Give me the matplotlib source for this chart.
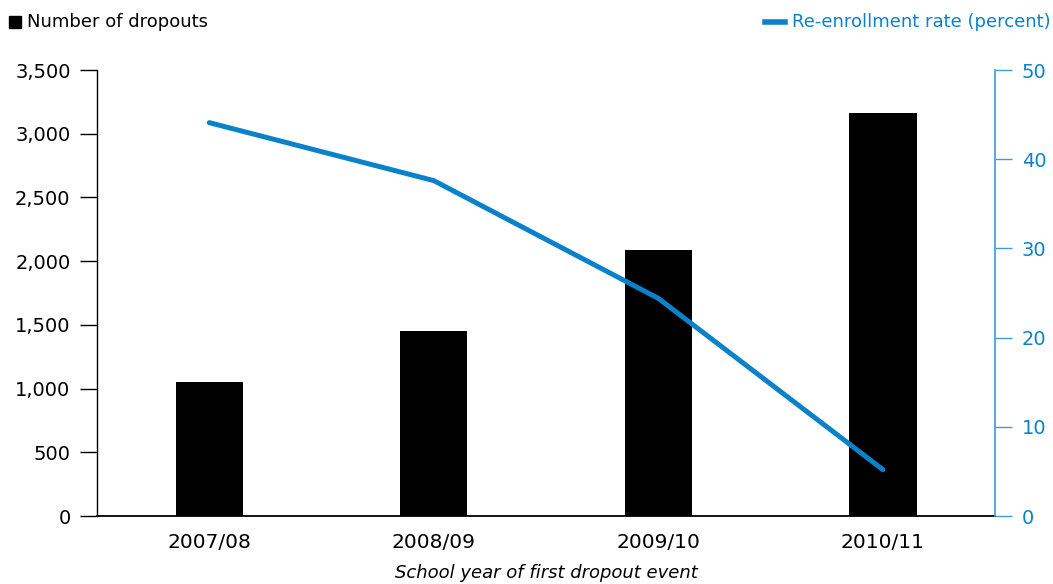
import matplotlib.pyplot as plt
from matplotlib.lines import Line2D

plt.rcParams["font.family"] = ["DejaVu Sans"]

years = ["2007/08", "2008/09", "2009/10", "2010/11"]
dropouts = [1050, 1450, 2090, 3165]
reenroll_rate = [44.1, 37.6, 24.4, 5.2]

left_ticks = [0, 500, 1000, 1500, 2000, 2500, 3000, 3500]
right_ticks = [0, 10, 20, 30, 40, 50]

BLUE = "#0A82CA"
AXIS_BLUE = "#3D9BD8"

fig = plt.figure(figsize=(10.53, 5.84), dpi=100)
ax = fig.add_axes([0.0921, 0.1164, 0.853, 0.7637])
ax2 = ax.twinx()

x = range(len(years))
ax.bar(x, dropouts, width=0.30, color="black", zorder=2)
ax.set_xlim(-0.5, 3.5)
ax.set_ylim(0, 3500)
ax.set_yticks(left_ticks)
ax.set_yticklabels([f"{v:,}" for v in left_ticks])
ax.set_xticks(list(x))
ax.set_xticklabels(years)
ax.tick_params(axis="y", length=12, width=1, labelsize=14, pad=7, colors="black")
ax.tick_params(axis="x", length=0, labelsize=14.5, pad=12)
for s in ["top", "right"]:
    ax.spines[s].set_visible(False)
ax.spines["left"].set_linewidth(1)
ax.spines["bottom"].set_linewidth(1.3)
ax.set_xlabel("School year of first dropout event", fontsize=13, style="italic", labelpad=9)

ax2.plot(x, reenroll_rate, color=BLUE, linewidth=3.6, solid_capstyle="round", zorder=3)
ax2.set_ylim(0, 50)
ax2.set_yticks(right_ticks)
ax2.tick_params(axis="y", length=12, width=1, labelsize=14, pad=7,
                colors=AXIS_BLUE, labelcolor=BLUE)
for s in ["top", "left", "bottom"]:
    ax2.spines[s].set_visible(False)
ax2.spines["right"].set_color(AXIS_BLUE)
ax2.spines["right"].set_linewidth(1.2)

# legends drawn as figure-level annotations above the axes
fig.add_artist(Line2D([0.0145], [0.9615], marker="s", markersize=8, color="black",
                      linestyle="none", transform=fig.transFigure))
fig.text(0.026, 0.962, "Number of dropouts", fontsize=13, va="center", ha="left")
fig.add_artist(Line2D([0.7265, 0.7455], [0.962, 0.962], color=BLUE, linewidth=4,
                      transform=fig.transFigure))
fig.text(0.998, 0.962, "Re-enrollment rate (percent)", fontsize=13, color=BLUE,
         va="center", ha="right")

fig.savefig("out.png", dpi=100)
